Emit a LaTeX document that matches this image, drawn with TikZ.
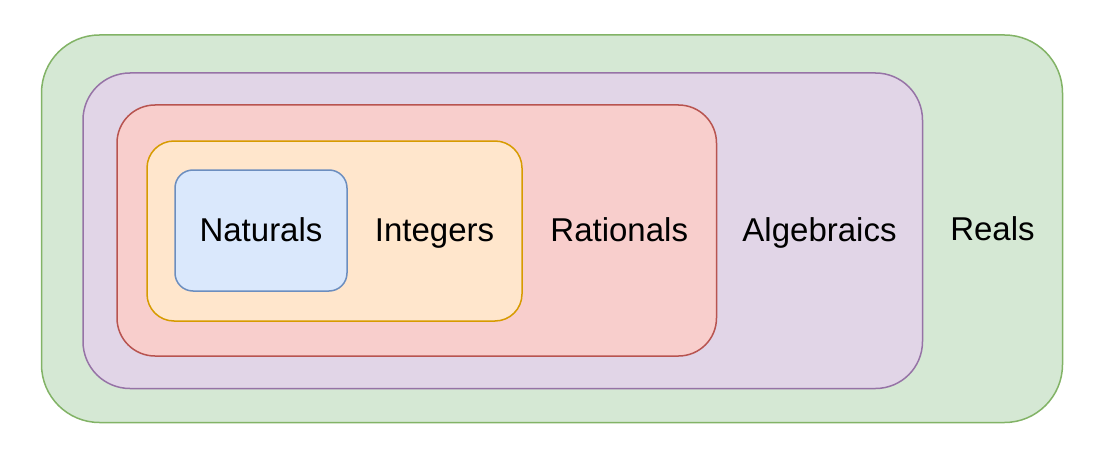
\documentclass[tikz,border=0pt]{standalone}
\usepackage{fontspec}
\setmainfont{Liberation Sans}
\usetikzlibrary{calc}

\definecolor{realsfill}{HTML}{D5E8D4}\definecolor{realsline}{HTML}{82B366}
\definecolor{algfill}{HTML}{E1D5E7}\definecolor{algline}{HTML}{9673A6}
\definecolor{ratfill}{HTML}{F8CECC}\definecolor{ratline}{HTML}{B85450}
\definecolor{intfill}{HTML}{FFE6CC}\definecolor{intline}{HTML}{D79B00}
\definecolor{natfill}{HTML}{DAE8FC}\definecolor{natline}{HTML}{6C8EBF}

\begin{document}
\begin{tikzpicture}[x=1pt,y=-1pt,
  setbox/.style={draw, line width=1.5pt, inner sep=0pt, outer sep=0pt},
  setlabel/.style={font=\fontsize{33}{40}\selectfont, inner sep=0pt,
    text height=24pt, text depth=3pt}]

\useasboundingbox (0,0) rectangle (1104,460);

% 1. Draw the nested sets, outermost first
\node[setbox, fill=realsfill, draw=realsline, rounded corners=58pt,
  minimum width=1021pt, minimum height=387.5pt] (reals) at (552,228.75) {};
\node[setbox, fill=algfill, draw=algline, rounded corners=47pt,
  minimum width=839.5pt, minimum height=315.5pt] (algebraics) at (502.75,230.75) {};
\node[setbox, fill=ratfill, draw=ratline, rounded corners=38pt,
  minimum width=599.5pt, minimum height=251pt] (rationals) at (416.75,230.5) {};
\node[setbox, fill=intfill, draw=intline, rounded corners=27pt,
  minimum width=375pt, minimum height=180pt] (integers) at (334.5,231) {};
\node[setbox, fill=natfill, draw=natline, rounded corners=18pt,
  minimum width=172pt, minimum height=121pt] (naturals) at (261,230.5) {};

% 2. Label each set in the free strip on its right
\node[setlabel] (naturalsLabel) at (naturals) {Naturals};
\node[setlabel] (integersLabel) at ($(naturals.east)!0.5!(integers.east)$) {Integers};
\node[setlabel] (rationalsLabel) at ($(integers.east)!0.5!(rationals.east)$) {Rationals};
\node[setlabel] (algebraicsLabel) at ($(rationals.east)!0.5!(algebraics.east)$) {Algebraics};
\node[setlabel] (realsLabel) at ($(algebraics.east)!0.5!(reals.east)$) {Reals};

\end{tikzpicture}
\end{document}
